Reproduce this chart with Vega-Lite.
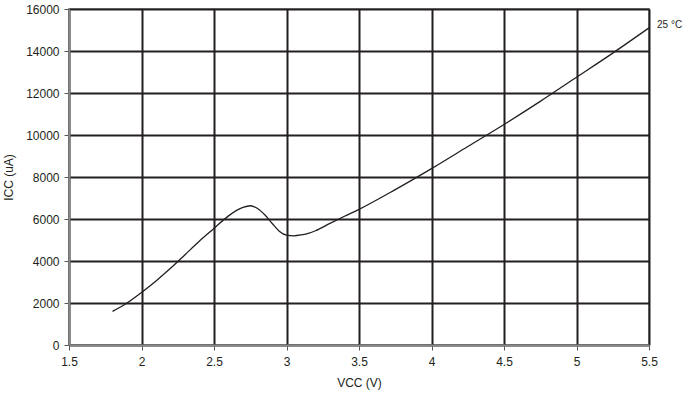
{
  "$schema": "https://vega.github.io/schema/vega-lite/v6.json",
  "width": 580,
  "height": 336,
  "autosize": {"type": "none"},
  "padding": {"left": 69, "top": 9, "right": 40, "bottom": 54},
  "background": "white",
  "config": {
    "font": "Liberation Sans",
    "view": {"stroke": "#999999", "strokeWidth": 2},
    "axis": {
      "labelFont": "Liberation Sans",
      "titleFont": "Liberation Sans",
      "labelFontSize": 12,
      "titleFontSize": 12,
      "labelColor": "#231f20",
      "titleColor": "#231f20",
      "titleFontWeight": "normal",
      "gridColor": "#231f20",
      "gridWidth": 2,
      "gridOpacity": 1,
      "domainColor": "#888888",
      "domainWidth": 2,
      "tickColor": "#555555",
      "tickSize": 5,
      "tickWidth": 1,
      "labelFlush": false
    }
  },
  "datasets": {
    "curve": [
      {"v": 1.8, "i": 1600},
      {"v": 1.9, "i": 2000},
      {"v": 2.0, "i": 2500},
      {"v": 2.1, "i": 3050},
      {"v": 2.2, "i": 3650},
      {"v": 2.3, "i": 4300},
      {"v": 2.4, "i": 4950},
      {"v": 2.5, "i": 5550},
      {"v": 2.6, "i": 6150},
      {"v": 2.7, "i": 6550},
      {"v": 2.75, "i": 6630},
      {"v": 2.8, "i": 6500},
      {"v": 2.85, "i": 6200},
      {"v": 2.9, "i": 5800},
      {"v": 2.95, "i": 5420},
      {"v": 3.0, "i": 5230},
      {"v": 3.05, "i": 5200},
      {"v": 3.1, "i": 5240},
      {"v": 3.15, "i": 5320},
      {"v": 3.2, "i": 5440},
      {"v": 3.3, "i": 5790},
      {"v": 3.4, "i": 6130},
      {"v": 3.5, "i": 6460},
      {"v": 3.75, "i": 7400},
      {"v": 4.0, "i": 8400},
      {"v": 4.25, "i": 9450},
      {"v": 4.5, "i": 10500},
      {"v": 4.75, "i": 11600},
      {"v": 5.0, "i": 12750},
      {"v": 5.25, "i": 13900},
      {"v": 5.5, "i": 15100}
    ],
    "label": [{"v": 5.5, "i": 15100, "t": "25 °C"}]
  },
  "layer": [
    {
      "data": {"name": "curve"},
      "mark": {"type": "line", "interpolate": "monotone", "color": "#231f20", "strokeWidth": 1.3},
      "encoding": {
        "x": {
          "field": "v", "type": "quantitative",
          "scale": {"domain": [1.5, 5.5], "nice": false, "zero": false},
          "axis": {"values": [1.5, 2, 2.5, 3, 3.5, 4, 4.5, 5, 5.5], "format": "~g", "title": "VCC (V)", "titlePadding": 10, "labelPadding": 6}
        },
        "y": {
          "field": "i", "type": "quantitative",
          "scale": {"domain": [0, 16000], "nice": false},
          "axis": {"values": [0, 2000, 4000, 6000, 8000, 10000, 12000, 14000, 16000], "format": "d", "title": "ICC (uA)", "titlePadding": 10, "labelPadding": 5}
        }
      }
    },
    {
      "data": {"name": "label"},
      "mark": {"type": "text", "align": "left", "baseline": "middle", "dx": 8, "dy": -3, "fontSize": 10, "color": "#231f20", "font": "Liberation Sans"},
      "encoding": {
        "x": {"field": "v", "type": "quantitative"},
        "y": {"field": "i", "type": "quantitative"},
        "text": {"field": "t"}
      }
    }
  ]
}
